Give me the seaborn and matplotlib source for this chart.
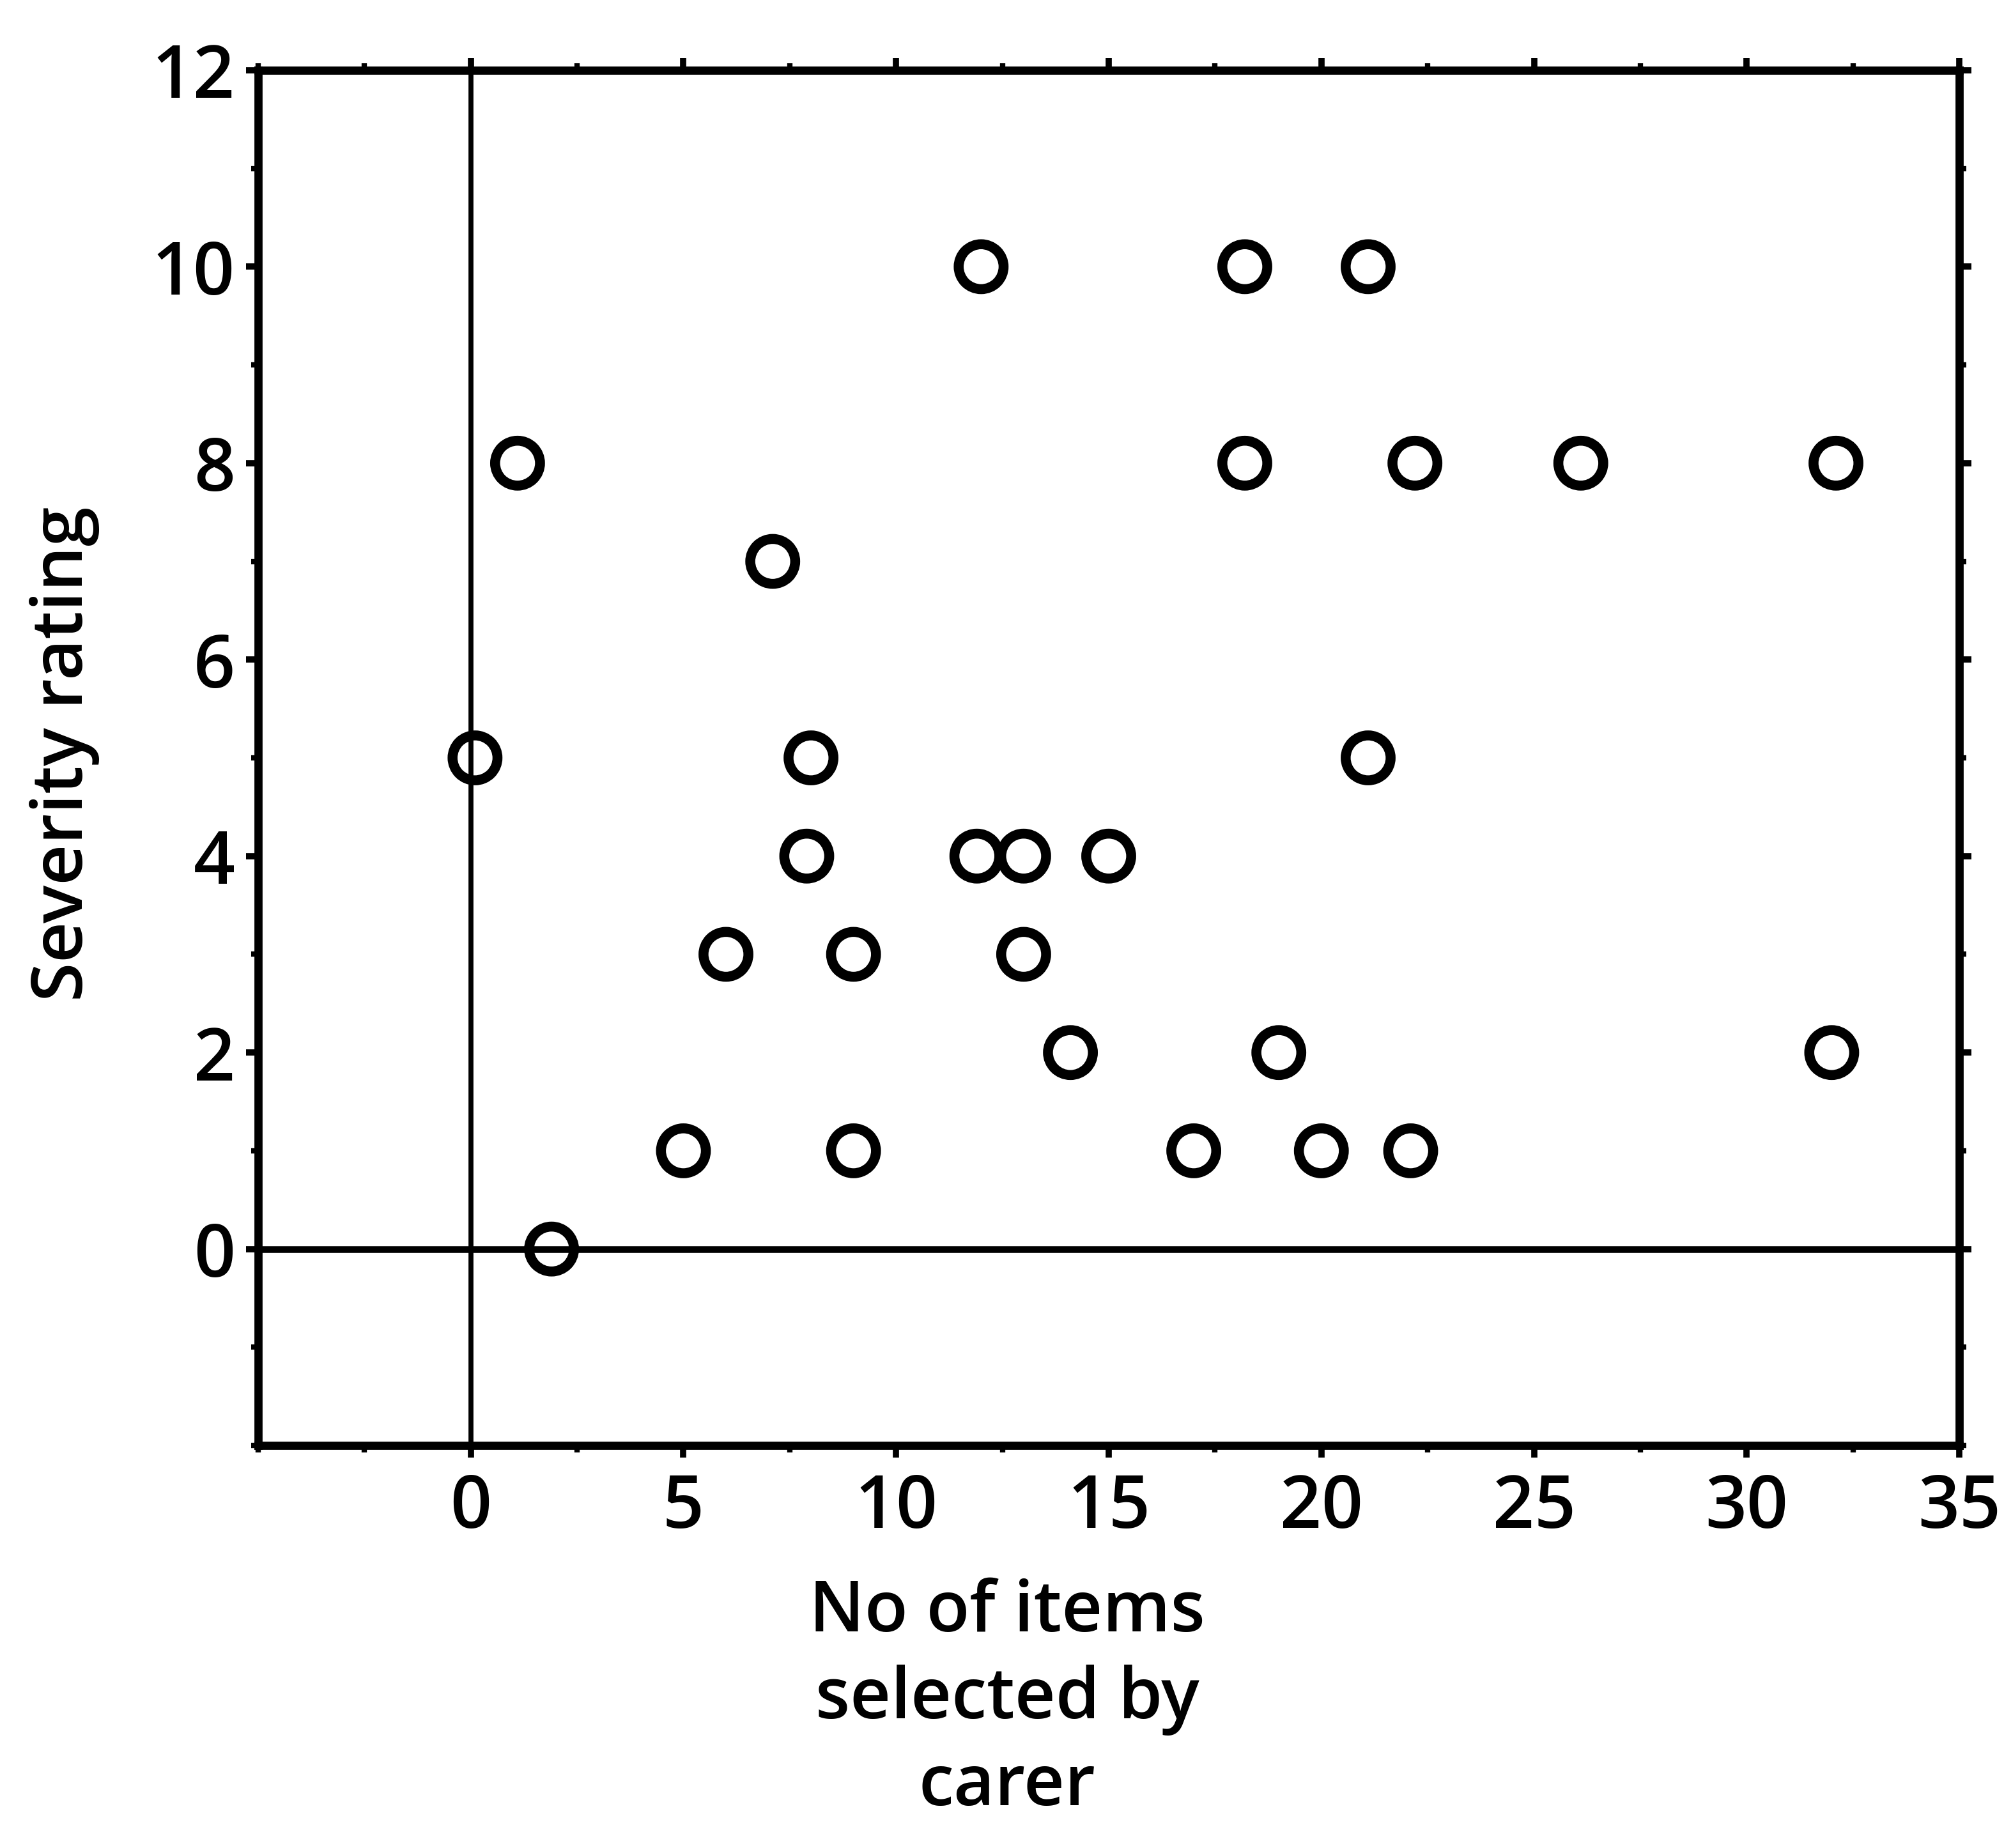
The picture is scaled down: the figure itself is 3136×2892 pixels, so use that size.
import matplotlib
matplotlib.use("Agg")
import matplotlib.pyplot as plt
from matplotlib.ticker import MultipleLocator
import numpy as np
import pandas as pd
import seaborn as sns

# Number of items selected by the carer vs. severity rating
items_selected = [12.0, 18.2, 21.1, 1.1, 18.2, 22.2, 26.1, 32.1, 7.1, 0.1,
                  8.0, 21.1, 7.9, 11.9, 13.0, 15.0, 6.0, 9.0, 13.0, 14.1,
                  19.0, 32.0, 5.0, 9.0, 17.0, 20.0, 22.1, 1.9]
severity = [10, 10, 10, 8, 8, 8, 8, 8, 7, 5,
            5, 5, 4, 4, 4, 4, 3, 3, 3, 2,
            2, 2, 1, 1, 1, 1, 1, 0]

x_ticks = [0, 5, 10, 15, 20, 25, 30, 35]
y_ticks = [0, 2, 4, 6, 8, 10, 12]
x_label = "No of items\nselected by\ncarer"
y_label = "Severity rating"

df = pd.DataFrame({"items": items_selected, "severity": severity})

sns.set_theme(style="ticks")
plt.rcParams["font.family"] = ["Open Sans", "DejaVu Sans"]
plt.rcParams["font.weight"] = "semibold"

fig = plt.figure(figsize=(15.68, 14.46), dpi=200)
ax = fig.add_axes([0.1288, 0.2178, 0.8489, 0.7442])

# reference lines through the origin
ax.axvline(0, color="black", lw=2.8, zorder=1)
ax.axhline(0, color="black", lw=3.8, zorder=1)

sns.scatterplot(data=df, x="items", y="severity", ax=ax, marker="o",
                s=640, facecolors="none", edgecolor="black", linewidth=5.6,
                zorder=3, legend=False)

ax.set_xlim(-5, 35)
ax.set_ylim(-2, 12)
ax.set_xticks(x_ticks)
ax.set_yticks(y_ticks)
ax.xaxis.set_minor_locator(MultipleLocator(2.5))
ax.yaxis.set_minor_locator(MultipleLocator(1))

for side in ["left", "right", "top", "bottom"]:
    ax.spines[side].set_visible(True)
    ax.spines[side].set_linewidth(4.6)
    ax.spines[side].set_color("black")

ax.tick_params(which="major", direction="out", length=7, width=3.5,
               color="black", labelsize=41, labelcolor="black",
               top=True, right=True, labeltop=False, labelright=False)
ax.tick_params(which="minor", direction="out", length=4, width=3,
               color="black", top=True, right=True)
ax.tick_params(axis="x", which="major", pad=8)
ax.tick_params(axis="y", which="major", pad=6)

ax.set_xlabel("")
ax.set_ylabel("")
fig.text(0.5026, 0.080, x_label, ha="center", va="center", fontsize=40,
         linespacing=1.3, color="black", fontweight="semibold")
fig.text(0.032, 0.592, y_label, ha="center", va="center", rotation=90,
         fontsize=40, color="black", fontweight="semibold")

fig.savefig("out.png", dpi=200, facecolor="white")
